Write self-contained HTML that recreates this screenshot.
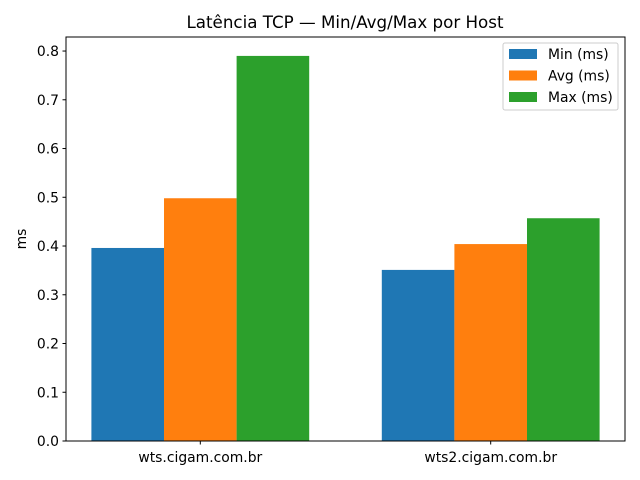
<!DOCTYPE html>
<html><head><meta charset="utf-8"><style>body{margin:0;background:#fff}svg{display:block;font-family:"DejaVu Sans","Liberation Sans",sans-serif}</style></head>
<body>
<svg id="chart" width="640" height="480" viewBox="0 0 640 480">
<rect width="640" height="480" fill="#fff"/>
<text x="345" y="28" font-size="16.7" text-anchor="middle">Latência TCP — Min/Avg/Max por Host</text>
<g id="bars"></g>
<g id="axes"></g>
<text transform="translate(26,239) rotate(-90)" font-size="13.9" text-anchor="middle">ms</text>
<g>
<rect x="503" y="43" width="115" height="67" fill="#fff" stroke="#ccc" rx="2"/>
<g id="legend"></g>
</g>
</svg>
<script>
const categories = ["wts.cigam.com.br", "wts2.cigam.com.br"];
const seriesNames = ["Min (ms)", "Avg (ms)", "Max (ms)"];
const minVals = [0.396, 0.351];
const avgVals = [0.498, 0.404];
const maxVals = [0.790, 0.457];
const yTicks = [0.0, 0.1, 0.2, 0.3, 0.4, 0.5, 0.6, 0.7, 0.8];
const colors = ["#1f77b4", "#ff7f0e", "#2ca02c"];

const L = 66, R = 625, T = 37, B = 441;
const xmin = -0.4625, xmax = 1.4625, ymax = 0.8288;
const xs = v => L + (v - xmin) / (xmax - xmin) * (R - L);
const ys = v => B - v / ymax * (B - T);
const NS = "http://www.w3.org/2000/svg";
function mk(tag, attrs, parent) { const e = document.createElementNS(NS, tag); for (const k in attrs) e.setAttribute(k, attrs[k]); parent.appendChild(e); return e; }

const bars = document.getElementById("bars");
const all = [minVals, avgVals, maxVals];
const w = 0.25;
all.forEach((vals, s) => {
  vals.forEach((v, i) => {
    const x0 = xs(i + (s - 1) * w - w / 2), x1 = xs(i + (s - 1) * w + w / 2);
    const r = mk("rect", { x: x0, y: ys(v), width: x1 - x0, height: ys(0) - ys(v), fill: colors[s] }, bars);
    
    
  });
});

const axes = document.getElementById("axes");
const frame = mk("rect", { x: L, y: T, width: R - L, height: B - T, fill: "none", stroke: "#000", "stroke-width": 1 }, axes);


yTicks.forEach(t => {
  const y = ys(t);
  mk("line", { x1: L - 3.5, x2: L, y1: y, y2: y, stroke: "#000" }, axes);
  const tx = mk("text", { x: L - 7, y: y + 5, "font-size": 13.9, "text-anchor": "end" }, axes);
  tx.textContent = t.toFixed(1);
  
  
});
categories.forEach((c, i) => {
  const x = xs(i);
  mk("line", { x1: x, x2: x, y1: B, y2: B + 3.5, stroke: "#000" }, axes);
  const tx = mk("text", { x: x, y: B + 21, "font-size": 13.9, "text-anchor": "middle" }, axes);
  tx.textContent = c;
  
  
});

const leg = document.getElementById("legend");
seriesNames.forEach((n, s) => {
  const y = 54 + s * 21.5;
  const g = mk("g", {}, leg);
  
  
  mk("rect", { x: 509, y: y - 5, width: 28, height: 10, fill: colors[s] }, g);
  const t = mk("text", { x: 548, y: y + 5, "font-size": 13.9 }, g);
  t.textContent = n;
});
</script>
</body></html>
